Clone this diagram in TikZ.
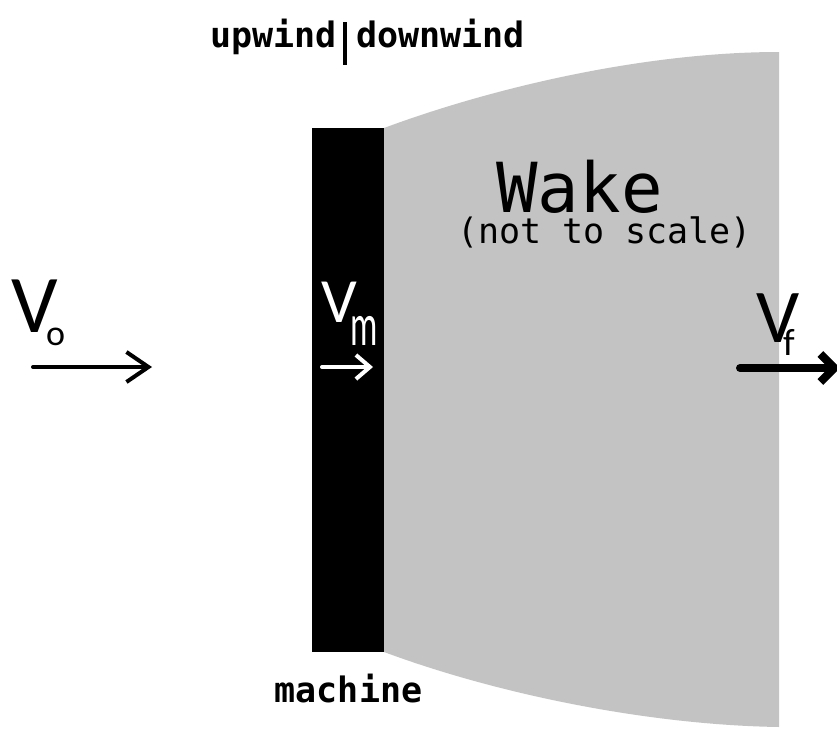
\documentclass[tikz,border=0pt]{standalone}
\usepackage{fontspec}
\usetikzlibrary{arrows.meta}
\newfontfamily\monofam{DejaVu Sans Mono}
\newfontfamily\calfam{Carlito}
\definecolor{wakegrey}{RGB}{195,195,195}
\newcommand{\subfs}[3]{\kern#1\raisebox{#2}{#3}}
\tikzset{
  lbl/.style={inner sep=0pt, outer sep=0pt},
  monobold/.style={lbl, font=\monofam\bfseries\fontsize{35}{35}\selectfont},
}
\begin{document}
\begin{tikzpicture}[x=1pt,y=-1pt]
\useasboundingbox (0,0) rectangle (837,728);
\clip (0,0) rectangle (837,728);
% wake
\fill[wakegrey] (384,128) .. controls (500,85) and (650,52) .. (779,52)
  -- (779,727) .. controls (650,725) and (500,695) .. (384,652) -- cycle;
% machine
\fill[black] (312,128) rectangle (384,652);
% labels at top
\node[monobold, anchor=base] (up) at (273.5,47) {upwind};
\node[monobold, anchor=base] (down) at (440.5,47) {downwind};
\coordinate (bartop) at (345,22);
\coordinate (barbot) at (345,65);
\draw[line width=4pt] (bartop) -- (barbot);
\node[monobold, anchor=base] (mach) at (348.5,702) {machine};
% wake text
\node[lbl, anchor=base, font=\monofam\fontsize{69}{69}\selectfont] (wake) at (579.5,212) {Wake};
\node[lbl, anchor=base, font=\monofam\fontsize{35}{35}\selectfont] (scale) at (604.5,243) {(not to scale)};
% V_o
\node[lbl, anchor=base west, font=\calfam\fontsize{82}{82}\selectfont] (vo) at (11,332)
  {V\subfs{-11.5pt}{-13pt}{\fontsize{36}{36}\selectfont o}};
\coordinate (a1s) at (33,367);
\coordinate (a1e) at (152,367);
\draw[line width=4pt, -{Straight Barb[length=22pt,width=30pt]}, line cap=round] (a1s) -- (a1e);
% V_m
\node[lbl, anchor=base west, text=white, font=\calfam\fontsize{63}{63}\selectfont] (vm) at (321,322)
  {V\subfs{-6.5pt}{-23pt}{\fontsize{60}{60}\selectfont\scalebox{0.57}[1]{m}}};
\coordinate (a2s) at (322,367);
\coordinate (a2e) at (373,367);
\draw[white, line width=4pt, -{Straight Barb[length=14pt,width=24pt]}, line cap=round] (a2s) -- (a2e);
% V_f
\node[lbl, anchor=base west, font=\calfam\fontsize{76}{76}\selectfont] (vf) at (756,342)
  {V\subfs{-16pt}{-13pt}{\fontsize{38}{38}\selectfont f}};
\coordinate (a3s) at (740,368);
\coordinate (a3e) at (840,368);
\draw[line width=8pt, -{Straight Barb[length=14pt,width=28pt]}, line cap=round] (a3s) -- (a3e);
\end{tikzpicture}
\end{document}
